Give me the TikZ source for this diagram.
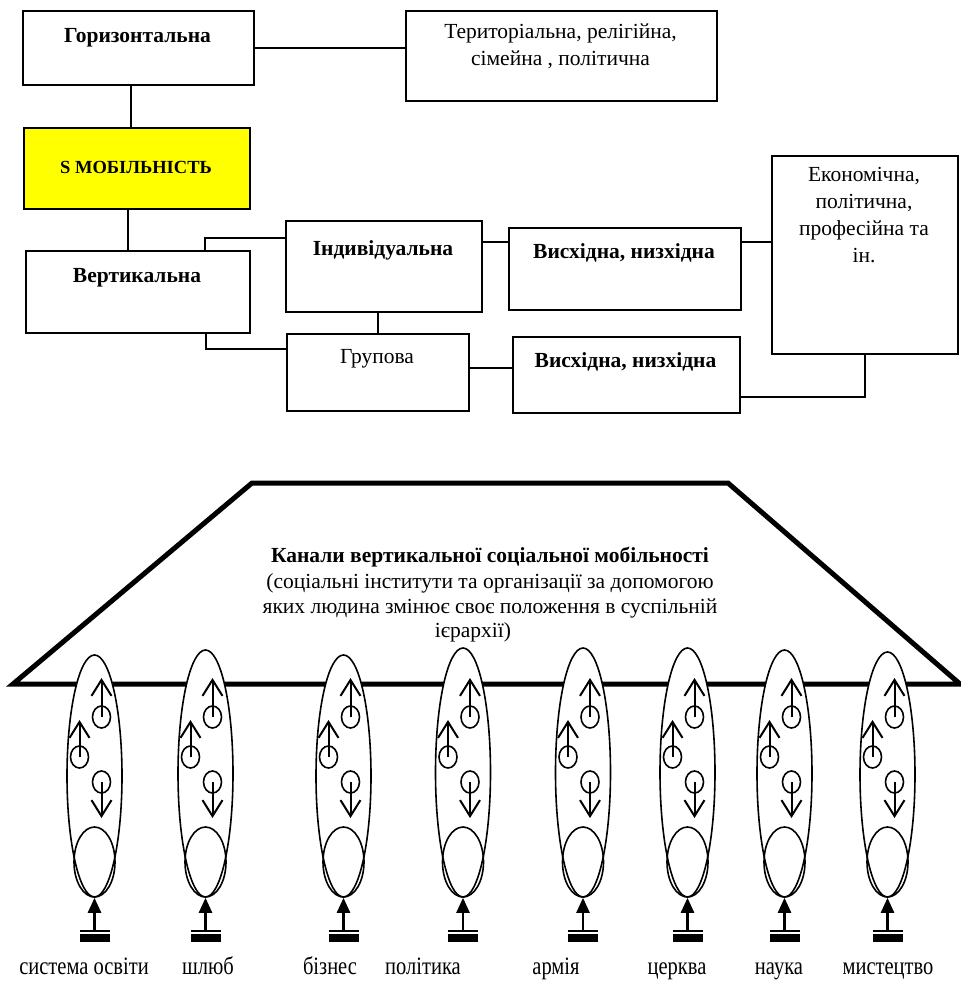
\documentclass[tikz,border=0pt]{standalone}
\usepackage{fontspec}
\setmainfont{Liberation Serif}
\usetikzlibrary{arrows.meta,calc,shapes.geometric}
\definecolor{boxyellow}{HTML}{FFFF00}
\begin{document}
\begin{tikzpicture}[x=1pt,y=-1pt,
  box/.style={draw, line width=2pt, inner sep=0, anchor=north west},
  conn/.style={line width=2pt},
  txt/.style={inner sep=0, anchor=base, font=\fontsize{21.5}{26}\selectfont},
  txtb/.style={inner sep=0, anchor=base, font=\fontsize{21.5}{26}\selectfont\bfseries},
  txtsm/.style={inner sep=0, anchor=base, font=\fontsize{18.5}{22}\selectfont\bfseries},
  lab/.style={inner sep=0, anchor=base, font=\fontsize{25}{29}\selectfont},
  bigell/.style={draw, ellipse, line width=1.6pt, fill=white, inner sep=0, minimum width=55pt},
  smallell/.style={draw, ellipse, line width=1.6pt, inner sep=0, minimum width=41pt, minimum height=70pt},
  dot/.style={draw, ellipse, line width=1.6pt, inner sep=0, minimum width=18pt, minimum height=22pt},
  vee/.style={line width=2pt, -{Straight Barb[length=16pt,width=20pt,line width=2pt]}},
  stem/.style={line width=2.5pt, -{Triangle[length=15pt,width=13pt]}}
]
\useasboundingbox (0,0) rectangle (961,983);

% ---------- top scheme ----------
\node[box, minimum width=231pt, minimum height=74pt] (hor) at (22,10) {};
\node[txtb] (horT) at (137.5,42) {Горизонтальна};

\node[box, minimum width=311pt, minimum height=90pt] (ter) at (405,10) {};
\node[txt] (terT1) at (560.5,38) {Територіальна, релігійна,};
\node[txt] (terT2) at (560.5,65) {сімейна , політична};

\node[box, minimum width=226pt, minimum height=81pt, fill=boxyellow] (smob) at (23,127) {};
\node[txtsm] (smobT) at (136,173) {S МОБІЛЬНІСТЬ};

\node[box, minimum width=224pt, minimum height=82pt] (vert) at (25,250) {};
\node[txtb] (vertT) at (137,282) {Вертикальна};

\node[box, minimum width=196pt, minimum height=91pt] (ind) at (285,220) {};
\node[txtb] (indT) at (383,255) {Індивідуальна};

\node[box, minimum width=182pt, minimum height=77pt] (grp) at (286,333) {};
\node[txt] (grpT) at (377,363) {Групова};

\node[box, minimum width=232pt, minimum height=82pt] (vis1) at (508,227) {};
\node[txtb] (vis1T) at (624,258) {Висхідна, низхідна};

\node[box, minimum width=227pt, minimum height=76pt] (vis2) at (512,336) {};
\node[txtb] (vis2T) at (625.5,367) {Висхідна, низхідна};

\node[box, minimum width=186pt, minimum height=198pt] (eco) at (771,155) {};
\node[txt] (ecoT1) at (864,181) {Економічна,};
\node[txt] (ecoT2) at (864,208) {політична,};
\node[txt] (ecoT3) at (864,235) {професійна та};
\node[txt] (ecoT4) at (864,262) {ін.};

\draw[conn] (hor.east) -- (hor.east -| ter.west);
\draw[conn] ([xshift=-7.5pt]hor.south) -- ([xshift=-7.5pt]hor.south |- smob.north);
\draw[conn] ([xshift=-9pt]smob.south) -- ([xshift=-9pt]smob.south |- vert.north);
\draw[conn] ([xshift=-46pt]vert.north east) |- ([yshift=-18pt]ind.north west);
\draw[conn] ([xshift=-45pt]vert.south east) |- ([yshift=-16pt]grp.north west);
\draw[conn] (grp.north) -- (grp.north |- ind.south);
\draw[conn] ([yshift=-22pt]ind.north east) -- ([yshift=-22pt]ind.north east -| vis1.west);
\draw[conn] ([yshift=-15pt]vis1.north east) -- ([yshift=-15pt]vis1.north east -| eco.west);
\draw[conn] ([yshift=-35pt]grp.north east) -- ([yshift=-35pt]grp.north east -| vis2.west);
\draw[conn] ([yshift=-61pt]vis2.north east) -| (eco.south);

% ---------- channels ----------
\draw[line width=5pt] (13,684) -- (252,483) -- (728,483) -- (960,684) -- cycle;
\node[txtb] (chT1) at (490,562) {Канали вертикальної соціальної мобільності};
\node[txt] (chT2) at (490,588) {(соціальні інститути та організації за допомогою};
\node[txt] (chT3) at (490,613) {яких людина змінює своє положення в суспільній};
\node[txt] (chT4) at (473,637) {ієрархії)};

\foreach \i/\cx/\tp/\lx/\lab in {1/94.5/655/84/система освіти, 2/205.5/650/208/шлюб, 3/343.5/655/330/бізнес, 4/463/648/423/політика, 5/583/648/556/армія, 6/687.5/648/677/церква, 7/784.5/650/779/наука, 8/887.5/652/888/мистецтво}{
  \pgfmathsetmacro{\cy}{(\tp+897)/2}
  \pgfmathsetmacro{\hh}{897-\tp}
  \node[bigell, minimum height=\hh pt] (e\i) at (\cx,\cy) {};
  \node[smallell] (s\i) at (\cx,862) {};
  \node[dot] (a\i) at (\cx+7,717) {};
  \node[dot] (b\i) at (\cx-15,757) {};
  \node[dot] (c\i) at (\cx+7,782) {};
  \draw[vee] (a\i.center) -- ++(0,-39);
  \draw[vee] (b\i.center) -- ++(0,-37);
  \draw[vee] (c\i.center) -- ++(0,36);
  \coordinate (g\i) at (\cx,930);
  \draw[stem] (g\i) -- (s\i.south);
  \draw[line width=2pt] ([xshift=-15pt,yshift=-0.5pt]g\i) -- ([xshift=15pt,yshift=-0.5pt]g\i);
  \fill ([xshift=-15pt,yshift=-3.5pt]g\i) rectangle ([xshift=15pt,yshift=-11.5pt]g\i);
  \node[lab] (l\i) at (\lx,974) {\scalebox{0.82}[1]{\lab}};
}
\end{tikzpicture}
\end{document}
